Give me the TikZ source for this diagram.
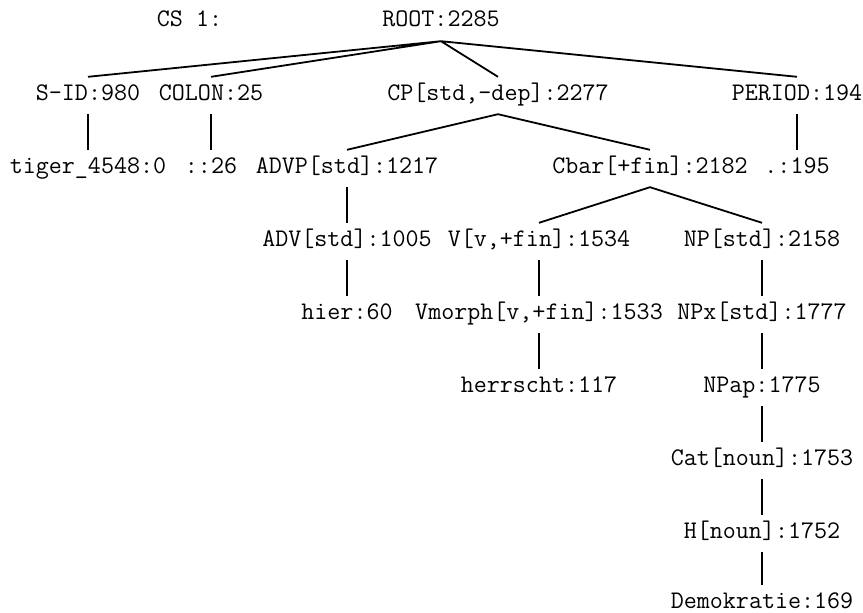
\documentclass[tikz,border=0pt]{standalone}
\usepackage{fontspec}
\tikzset{
  cat/.style={anchor=base,inner xsep=0pt,inner ysep=8pt,text height=15pt,text depth=6pt,
    font=\ttfamily\fontsize{25.3}{28}\selectfont},
  branch/.style={line width=1.8pt}
}
\begin{document}
\begin{tikzpicture}[x=1pt,y=-1pt]
  \useasboundingbox (0,0) rectangle (863,613);
  \node[cat] (cs) at (189.5,27) {CS 1:};
  \node[cat] (root) at (441,27) {ROOT:2285};
  \node[cat] (sid) at (88,100) {S-ID:980};
  \node[cat] (colon) at (211,100) {COLON:25};
  \node[cat] (cp) at (498,100) {CP[std,-dep]:2277};
  \node[cat] (period) at (797,100) {PERIOD:194};
  \node[cat] (tiger) at (88,173) {tiger\_4548:0};
  \node[cat] (colonw) at (211,173) {::26};
  \node[cat] (advp) at (347,173) {ADVP[std]:1217};
  \node[cat] (cbar) at (650,173) {Cbar[+fin]:2182};
  \node[cat] (periodw) at (797,173) {.:195};
  \node[cat] (adv) at (347,246) {ADV[std]:1005};
  \node[cat] (v) at (539,246) {V[v,+fin]:1534};
  \node[cat] (np) at (762,246) {NP[std]:2158};
  \node[cat] (hier) at (347,319) {hier:60};
  \node[cat] (vmorph) at (539,319) {Vmorph[v,+fin]:1533};
  \node[cat] (npx) at (762,319) {NPx[std]:1777};
  \node[cat] (herrscht) at (539,392) {herrscht:117};
  \node[cat] (npap) at (762,392) {NPap:1775};
  \node[cat] (catn) at (762,465) {Cat[noun]:1753};
  \node[cat] (hn) at (762,538) {H[noun]:1752};
  \node[cat] (demokratie) at (762,608) {Demokratie:169};
  \draw[branch] (root.south) -- (sid.north) (root.south) -- (colon.north)
    (root.south) -- (cp.north) (root.south) -- (period.north);
  \draw[branch] (sid) -- (tiger) (colon) -- (colonw) (period) -- (periodw);
  \draw[branch] (cp.south) -- (advp.north) (cp.south) -- (cbar.north);
  \draw[branch] (cbar.south) -- (v.north) (cbar.south) -- (np.north);
  \draw[branch] (advp) -- (adv) (adv) -- (hier);
  \draw[branch] (v) -- (vmorph) (vmorph) -- (herrscht);
  \draw[branch] (np) -- (npx) (npx) -- (npap) (npap) -- (catn) (catn) -- (hn) (hn) -- (demokratie);
\end{tikzpicture}
\end{document}
